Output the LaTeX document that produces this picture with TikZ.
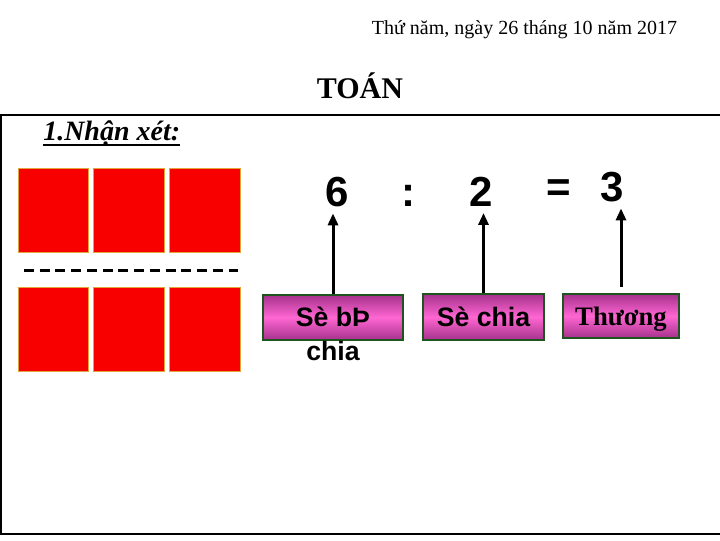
\documentclass[tikz,border=0pt]{standalone}
\usepackage{fontspec}
\setmainfont{Liberation Serif}
\newfontfamily\arialf{Liberation Sans}
\usetikzlibrary{arrows.meta}
\definecolor{cardred}{RGB}{248,0,0}
\definecolor{cardedge}{RGB}{225,165,60}
\definecolor{boxgreen}{RGB}{30,85,30}
\definecolor{pinkmid}{RGB}{255,102,210}
\definecolor{pinkedge}{RGB}{165,50,140}
\tikzset{
  card/.style={fill=cardred, draw=cardedge, line width=0.8pt, minimum width=53pt, minimum height=63.5pt, inner sep=0pt},
  numtxt/.style={font=\arialf\bfseries\fontsize{31.5pt}{34pt}\selectfont, anchor=base, inner sep=2pt},
  namebox/.style={draw=boxgreen, line width=2pt, top color=pinkedge, bottom color=pinkedge, middle color=pinkmid, inner sep=0pt, text height=14pt, text depth=0pt, font=\arialf\bfseries\fontsize{20pt}{22pt}\selectfont},
  uparrow/.style={line width=2.25pt, -{Triangle[width=7.5pt,length=9pt]}, shorten >=3pt}
}
\begin{document}
\begin{tikzpicture}[x=0.75pt, y=-0.75pt]
\useasboundingbox (0,0) rectangle (720,540);
% frame
\draw[line width=1.5pt] (1,115) rectangle (730,534);
% header
\node[anchor=base, inner sep=0pt, font=\fontsize{15pt}{18pt}\selectfont] (date) at (524.5,34) {Thứ năm, ngày 26 tháng 10 năm 2017};
\node[anchor=base, inner sep=0pt, font=\bfseries\fontsize{22.5pt}{26pt}\selectfont] (title) at (360,98) {TOÁN};
\node[anchor=base west, inner sep=0pt, font=\bfseries\itshape\fontsize{21pt}{24pt}\selectfont] (nx) at (43,140) {1.Nhận xét:};
\draw[line width=1.6pt] ([yshift=-3.6pt]nx.base west) -- ([yshift=-3.6pt]nx.base east);
% cards
\node[card] (r1) at (53.5,210.5) {};
\node[card] (r2) at (129,210.5) {};
\node[card] (r3) at (205,210.5) {};
\node[card] (r4) at (53.5,329.5) {};
\node[card] (r5) at (129,329.5) {};
\node[card] (r6) at (205,329.5) {};
\coordinate (dl) at (24,270);
\coordinate (dr) at (238,270);
\draw[line width=2.25pt, dash pattern=on 7.5pt off 4.3pt] (dl) -- (dr);
% equation
\node[numtxt] (n6) at (337,206) {6};
\node[numtxt] (colon) at (408,206) {:};
\node[numtxt] (n2) at (481,206) {2};
\node[numtxt] (eq) at (559,201) {=};
\node[numtxt] (n3) at (612,201) {3};
% boxes
\node[namebox, minimum width=105pt, minimum height=33.75pt,
  label={[inner sep=0pt, label distance=0pt, font=\arialf\bfseries\fontsize{20pt}{22pt}\selectfont]below:chia}] (b1) at (333,317.5) {Sè bÞ};
\node[namebox, minimum width=90.75pt, minimum height=34.5pt] (b2) at (483.5,317) {Sè chia};
\node[namebox, minimum width=87pt, minimum height=33pt, font=\bfseries\fontsize{20pt}{22pt}\selectfont] (b3) at (621,316) {Thương};
% arrows
\draw[uparrow] (b1.north) -- (b1.north |- n6.south);
\draw[uparrow] (b2.north) -- (b2.north |- n2.south);
\draw[uparrow] ([yshift=4.5pt]b3.north) -- (b3.north |- n3.south);
\end{tikzpicture}
\end{document}
